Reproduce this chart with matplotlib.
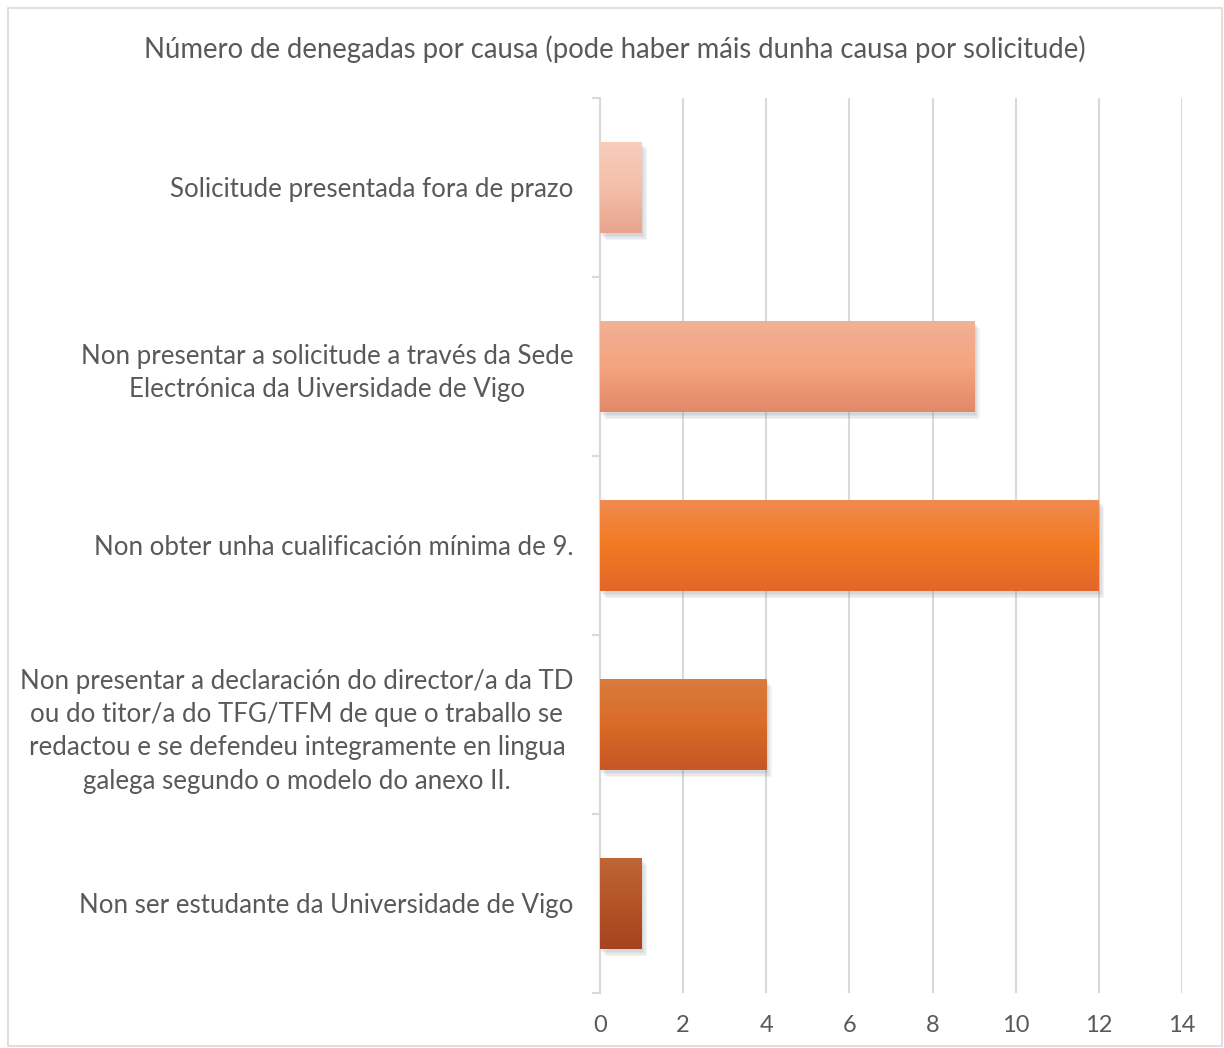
import numpy as np
import matplotlib.pyplot as plt
from matplotlib.colors import LinearSegmentedColormap
from matplotlib.patches import Rectangle
import matplotlib.patheffects as pe

# ==========================
# DATOS
# ==========================

causas = [
    "Solicitude presentada fora de prazo",
    "Non presentar a solicitude a través da Sede\nElectrónica da Uiversidade de Vigo",
    "Non obter unha cualificación mínima de 9.",
    "Non presentar a declaración do director/a da TD\nou do titor/a do TFG/TFM de que o traballo se\nredactou e se defendeu integramente en lingua\ngalega segundo o modelo do anexo II.",
    "Non ser estudante da Universidade de Vigo",
]
denegadas = [1, 9, 12, 4, 1]
ticks_x = [0, 2, 4, 6, 8, 10, 12, 14]

# degradado de cada barra: arriba, medio, abaixo
degradados = [
    ["#F8CDBC", "#F5BFA9", "#E8A48E"],
    ["#F2B195", "#F4A47F", "#E28A68"],
    ["#EF8B50", "#F37A22", "#E2672A"],
    ["#DA7B40", "#D96C26", "#C85626"],
    ["#BE6735", "#B55427", "#A5431F"],
]

titulo = "Número de denegadas por causa (pode haber máis dunha causa por solicitude)"

plt.rcParams["font.family"] = ["Lato", "DejaVu Sans"]
cinza = "#595959"

fig = plt.figure(figsize=(12.24, 10.48), dpi=100)
ax = fig.add_axes([0.4902, 0.0525, 0.4755, 0.854])

# marco do gráfico
fig.patches.append(Rectangle((8 / 1224, 2 / 1048), 1214 / 1224, 1038 / 1048,
                             transform=fig.transFigure, fill=False,
                             edgecolor="#D9D9D9", linewidth=1.2))

y = np.arange(len(causas))
barras = ax.barh(y, denegadas, height=0.51, color="none", zorder=3)

for barra, cores in zip(barras, degradados):
    x0, y0 = barra.get_x(), barra.get_y()
    w, h = barra.get_width(), barra.get_height()
    # sombra suave (varias capas)
    efectos = [pe.SimplePatchShadow(offset=(d, -d - 1), shadow_rgbFace="#8a9099",
                                    alpha=0.10) for d in (1, 2, 3, 4)]
    sombra = Rectangle((x0, y0), w, h, facecolor="white", edgecolor="none",
                       zorder=2, path_effects=efectos)
    ax.add_patch(sombra)
    cmap = LinearSegmentedColormap.from_list("g", cores)
    grad = np.linspace(0, 1, 100).reshape(-1, 1)
    im = ax.imshow(grad, cmap=cmap, aspect="auto",
                   extent=(x0, x0 + w, y0 + h, y0), origin="upper",
                   zorder=3, interpolation="bilinear")
    im.set_clip_path(barra)

ax.set_xlim(0, 14)
ax.set_ylim(len(causas) - 0.5, -0.5)

ax.set_xticks(ticks_x)
ax.set_yticks(y)
ax.set_yticklabels(causas, ha="right", multialignment="center", linespacing=1.42)
ax.set_yticks(np.arange(-0.5, len(causas), 1), minor=True)

ax.tick_params(axis="y", which="major", length=0, pad=19,
               labelsize=18.6, labelcolor=cinza)
ax.tick_params(axis="y", which="minor", length=6, color="#D9D9D9", width=1.5)
ax.tick_params(axis="x", length=0, labelsize=17, labelcolor=cinza, pad=16)

ax.grid(axis="x", color="#D9D9D9", linewidth=1.5, zorder=0)
ax.set_axisbelow(True)

for lado in ["top", "right", "bottom"]:
    ax.spines[lado].set_visible(False)
ax.spines["left"].set_color("#D9D9D9")
ax.spines["left"].set_linewidth(1.5)

fig.text(615 / 1224, 1 - 49 / 1048, titulo, ha="center", va="center",
         fontsize=19.8, color=cinza)

plt.savefig("out.png", dpi=100)
